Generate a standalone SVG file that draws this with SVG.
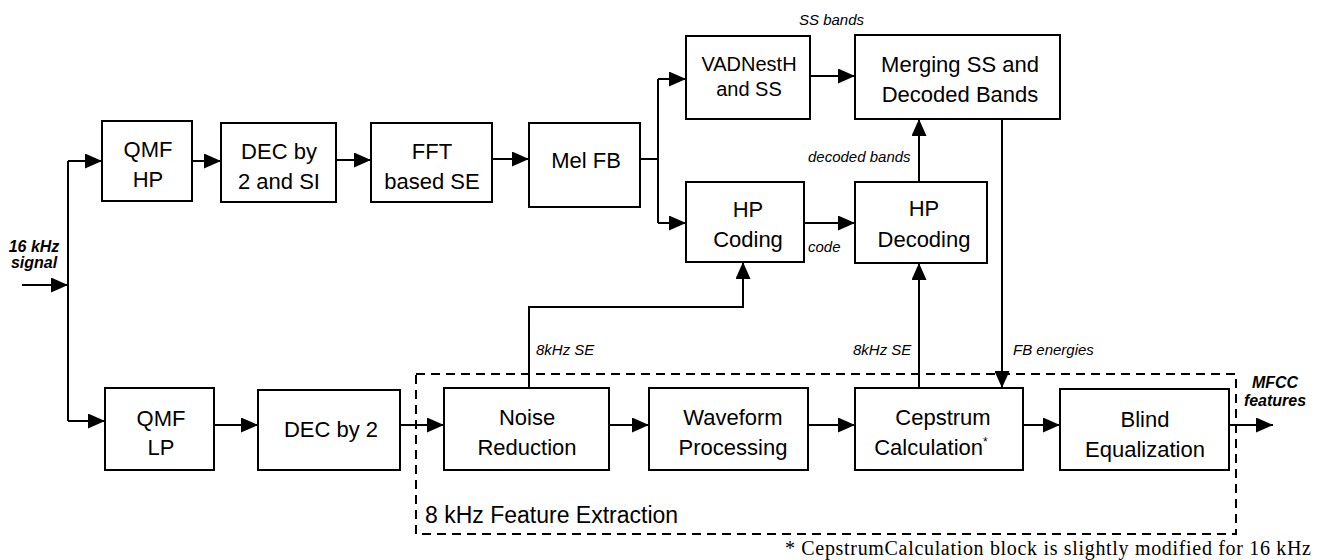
<svg xmlns="http://www.w3.org/2000/svg" width="1319" height="560" viewBox="0 0 1319 560">
<defs>
<marker id="ah" markerUnits="userSpaceOnUse" markerWidth="18" markerHeight="15" refX="17" refY="7.5" orient="auto">
<path d="M0,0 L17,7.5 L0,15 z" fill="#000"/>
</marker>
<style>
.box{fill:#fff;stroke:#000;stroke-width:2}
.t{font-family:"Liberation Sans",Arial,sans-serif;font-size:22px;text-anchor:middle;fill:#000}
.s{font-family:"Liberation Sans",Arial,sans-serif;font-size:15px;font-style:italic;fill:#000}
.b{font-family:"Liberation Sans",Arial,sans-serif;font-size:16px;font-style:italic;font-weight:bold;text-anchor:middle;fill:#000}
.c{fill:none;stroke:#000;stroke-width:2}
.a{fill:none;stroke:#000;stroke-width:2;marker-end:url(#ah)}
</style>
</defs>
<rect width="1319" height="560" fill="#fff"/>
<g id="group-8khz">
<rect x="416" y="374" width="820" height="160" fill="none" stroke="#000" stroke-width="2" stroke-dasharray="9,6"/>
<text x="425" y="523" style="font-family:'Liberation Sans',Arial,sans-serif;font-size:23px;fill:#000">8 kHz Feature Extraction</text>
</g>
<g id="connectors">
<path class="a" d="M22,285 H68"/>
<path class="c" d="M68,161 V421"/>
<path class="a" d="M68,161 H102"/>
<path class="a" d="M68,421 H105"/>
<path class="a" d="M192,161 H221"/>
<path class="a" d="M336,160 H371"/>
<path class="a" d="M492,159 H529"/>
<path class="c" d="M640,159 H658 M658,79 V223"/>
<path class="a" d="M658,79 H686"/>
<path class="a" d="M658,223 H686"/>
<path class="a" d="M810,76 H855"/>
<path class="a" d="M804,223 H855"/>
<path class="a" d="M919,182 V119"/>
<path class="a" d="M1002,119 V388"/>
<path class="a" d="M214,425 H258"/>
<path class="a" d="M400,425 H444"/>
<path class="a" d="M609,425 H649"/>
<path class="a" d="M808,425 H855"/>
<path class="a" d="M1023,425 H1060"/>
<path class="a" d="M1229,425 H1273"/>
<path class="a" d="M529,388 V307 H743 V262"/>
<path class="a" d="M919,388 V263"/>
<text class="s" x="799" y="25">SS bands</text>
<text class="s" x="808" y="162">decoded bands</text>
<text class="s" x="808" y="252">code</text>
<text class="s" x="536" y="355">8kHz SE</text>
<text class="s" x="853" y="355">8kHz SE</text>
<text class="s" x="1013" y="355">FB energies</text>
<text class="b" x="34" y="252">16 kHz</text>
<text class="b" x="34" y="268">signal</text>
<text class="b" x="1275" y="388">MFCC</text>
<text class="b" x="1275" y="406">features</text>
</g>
<g id="qmf-hp">
<rect class="box" x="102" y="121" width="90" height="80"/>
<text class="t" x="148" y="157">QMF</text>
<text class="t" x="148" y="187">HP</text>
</g>
<g id="dec-si">
<rect class="box" x="221" y="123" width="115" height="79"/>
<text class="t" x="279" y="159">DEC by</text>
<text class="t" x="279" y="189">2 and SI</text>
</g>
<g id="fft-se">
<rect class="box" x="371" y="123" width="121" height="79"/>
<text class="t" x="432" y="159">FFT</text>
<text class="t" x="432" y="189">based SE</text>
</g>
<g id="mel-fb">
<rect class="box" x="529" y="123" width="111" height="84"/>
<text class="t" x="586" y="168">Mel FB</text>
</g>
<g id="vad">
<rect class="box" x="686" y="36" width="124" height="83"/>
<text class="t" x="749" y="71" style="font-size:20px">VADNestH</text>
<text class="t" x="749" y="96" style="font-size:20px">and SS</text>
</g>
<g id="hp-coding">
<rect class="box" x="686" y="182" width="118" height="80"/>
<text class="t" x="748" y="217">HP</text>
<text class="t" x="748" y="247">Coding</text>
</g>
<g id="merging">
<rect class="box" x="855" y="35" width="205" height="84"/>
<text class="t" x="960" y="72">Merging SS and</text>
<text class="t" x="960" y="102">Decoded Bands</text>
</g>
<g id="hp-decoding">
<rect class="box" x="855" y="182" width="132" height="81"/>
<text class="t" x="924" y="216">HP</text>
<text class="t" x="924" y="247">Decoding</text>
</g>
<g id="qmf-lp">
<rect class="box" x="105" y="388" width="109" height="82"/>
<text class="t" x="161" y="426">QMF</text>
<text class="t" x="161" y="455">LP</text>
</g>
<g id="dec2">
<rect class="box" x="258" y="390" width="142" height="80"/>
<text class="t" x="331" y="437">DEC by 2</text>
</g>
<g id="noise">
<rect class="box" x="444" y="388" width="165" height="82"/>
<text class="t" x="527" y="425">Noise</text>
<text class="t" x="527" y="455">Reduction</text>
</g>
<g id="waveform">
<rect class="box" x="649" y="388" width="159" height="82"/>
<text class="t" x="733" y="425">Waveform</text>
<text class="t" x="733" y="455">Processing</text>
</g>
<g id="cepstrum">
<rect class="box" x="855" y="388" width="168" height="82"/>
<text class="t" x="943" y="425">Cepstrum</text>
<text class="t" x="931" y="455">Calculation<tspan dy="-9" style="font-size:12px">*</tspan></text>
</g>
<g id="blind">
<rect class="box" x="1060" y="389" width="169" height="81"/>
<text class="t" x="1145" y="427">Blind</text>
<text class="t" x="1145" y="457">Equalization</text>
</g>
<text x="785" y="555" textLength="526" lengthAdjust="spacing" style="font-family:'Liberation Serif','Times New Roman',serif;font-size:20px;fill:#000">* CepstrumCalculation block is slightly modified for 16 kHz</text>
</svg>
